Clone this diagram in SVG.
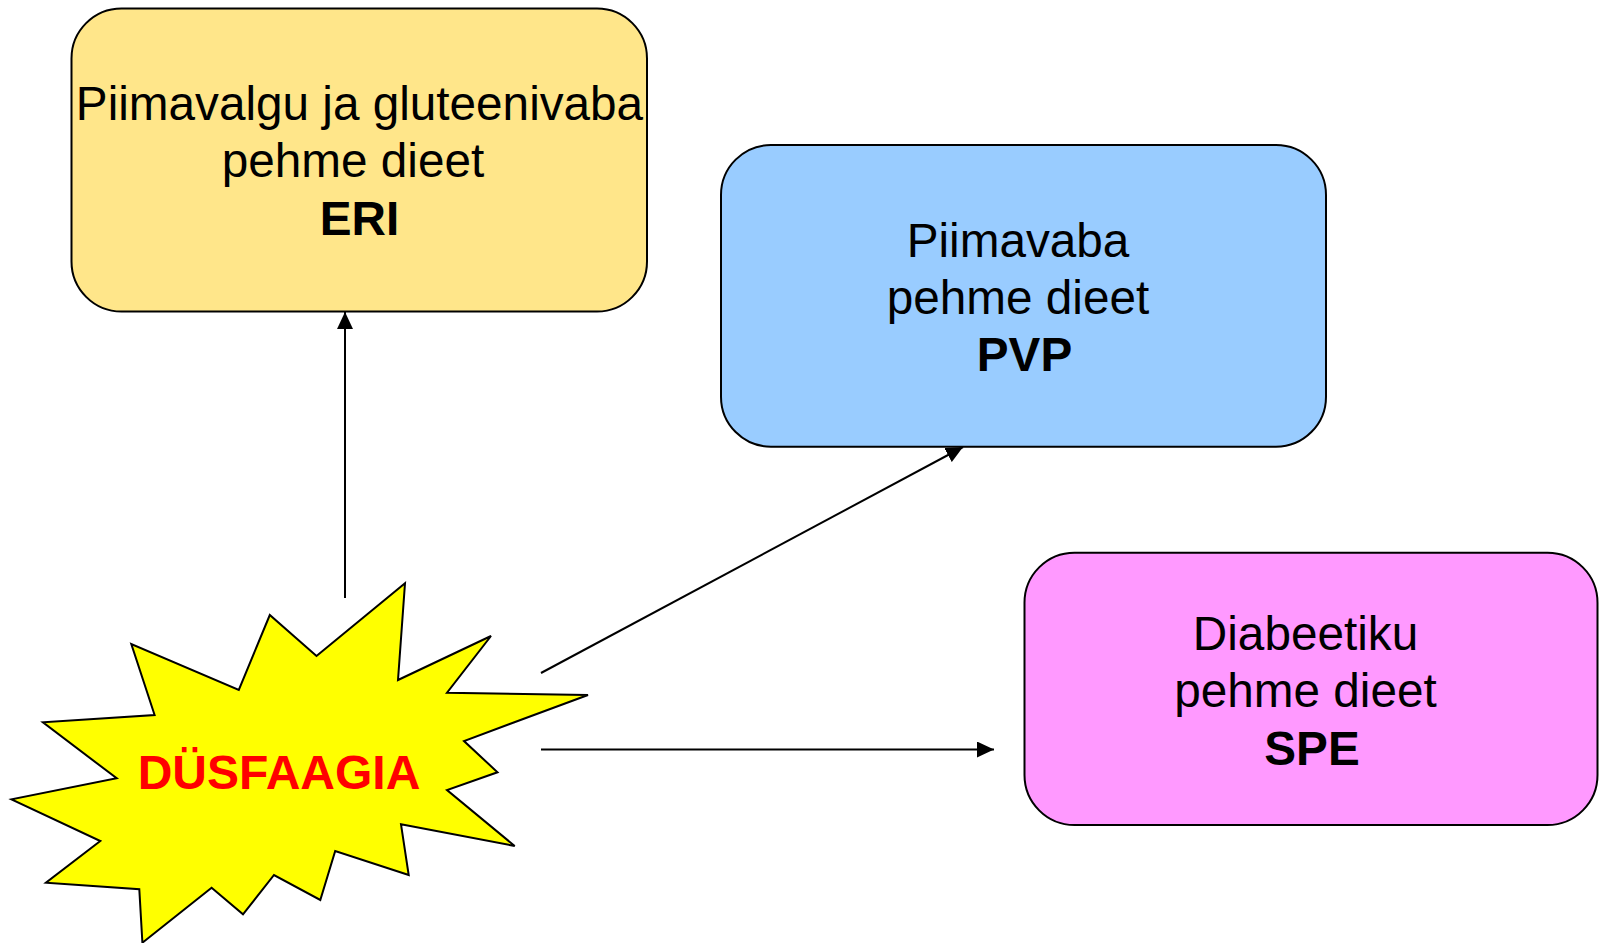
<svg xmlns="http://www.w3.org/2000/svg" width="1599" height="943" viewBox="0 0 1599 943">
<style>
.box{stroke:#000;stroke-width:2}
.t{font-family:"Liberation Sans",Arial,sans-serif;font-size:47.7px;fill:#000;text-anchor:middle}
.b{font-weight:bold}
.conn{stroke:#000;stroke-width:2;fill:none;marker-end:url(#arr)}
</style>
<defs>
<marker id="arr" markerUnits="userSpaceOnUse" markerWidth="18" markerHeight="16" viewBox="0 0 18 16" refX="17" refY="8" orient="auto">
<path d="M0,0 L17,8 L0,16 Z" fill="#000"/>
</marker>
</defs>
<rect width="1599" height="943" fill="#fff"/>
<g id="connectors">
<line class="conn" x1="345" y1="598" x2="345" y2="312"/>
<line class="conn" x1="541" y1="673" x2="963" y2="447"/>
<line class="conn" x1="541" y1="749.5" x2="994" y2="749.5"/>
</g>
<g id="eri">
<rect class="box" x="71.5" y="8.5" width="575.5" height="303" rx="50" ry="50" fill="#FFE68A"/>
<text class="t" x="359.5" y="120">Piimavalgu ja gluteenivaba</text>
<text class="t" x="353" y="177">pehme dieet</text>
<text class="t b" x="359.5" y="235">ERI</text>
</g>
<g id="pvp">
<rect class="box" x="721" y="145" width="605" height="301.7" rx="50" ry="50" fill="#99CCFF"/>
<text class="t" x="1018" y="257">Piimavaba</text>
<text class="t" x="1018" y="314">pehme dieet</text>
<text class="t b" x="1024.5" y="371">PVP</text>
</g>
<g id="spe">
<rect class="box" x="1024.5" y="552.7" width="573" height="272.3" rx="50" ry="50" fill="#FF99FF"/>
<text class="t" x="1305.5" y="650">Diabeetiku</text>
<text class="t" x="1305.5" y="707">pehme dieet</text>
<text class="t b" x="1312" y="765">SPE</text>
</g>
<g id="dusfaagia">
<polygon points="405,583.3 398,680 491,636 447,692.7 588,695 464,741 497.5,772.3 447,790 514.7,846 401,824.3 408.7,875 335.2,851 320.3,900 274,875 243,914.3 211.6,887.7 142.4,942.7 139.3,889.3 45.9,882.7 100.3,841 11.5,799.3 116.7,778.3 42.9,722.3 154.6,715 131.3,644 238.8,690 269.8,615 316.5,656" fill="#FFFF00" stroke="#000" stroke-width="2" stroke-linejoin="miter"/>
<text class="t b" x="279" y="789" style="fill:#FF0000;font-size:48px">DÜSFAAGIA</text>
</g>
</svg>
